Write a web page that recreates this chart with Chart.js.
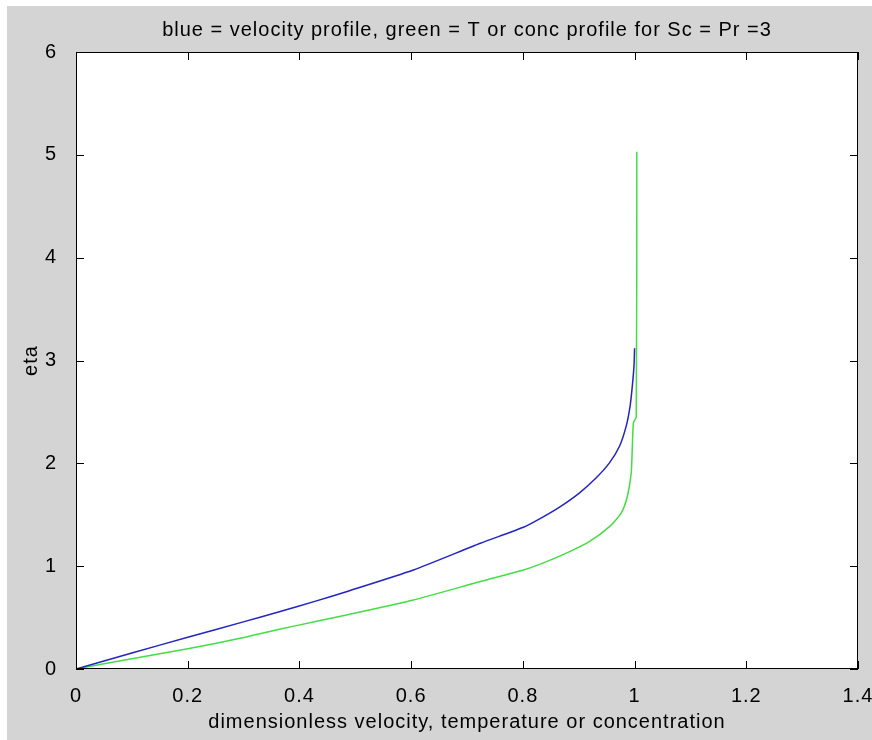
<!DOCTYPE html>
<html>
<head>
<meta charset="utf-8">
<script src="https://cdn.jsdelivr.net/npm/chart.js@4"></script>
<style>
  html, body { margin: 0; padding: 0; background: #fff; }
</style>
</head>
<body>
<canvas id="profiles" width="872" height="740"></canvas>
<script>
// blue curve: velocity profile
const velocity = [0, 0.1, 0.2, 0.298, 0.364, 0.429, 0.484, 0.604, 0.724, 0.801, 0.830, 0.865, 0.901, 0.931, 0.955, 0.973, 0.985, 0.992, 0.996, 0.999, 1.0];
const velocityEta = [0, 0.155, 0.309, 0.456, 0.557, 0.660, 0.752, 0.963, 1.223, 1.378, 1.460, 1.572, 1.711, 1.857, 2.004, 2.166, 2.362, 2.557, 2.753, 2.95, 3.12];
// green curve: T / conc profile (Sc = Pr = 3)
const temperature = [0, 0.1, 0.2, 0.298, 0.364, 0.429, 0.484, 0.604, 0.724, 0.801, 0.830, 0.877, 0.919, 0.955, 0.976, 0.987, 0.994, 0.996, 0.998, 1.003, 1.004];
const temperatureEta = [0, 0.1, 0.196, 0.303, 0.386, 0.462, 0.525, 0.671, 0.85, 0.962, 1.017, 1.124, 1.238, 1.384, 1.515, 1.677, 1.906, 2.166, 2.395, 2.45, 5.03];

const xTicks = [0, 0.2, 0.4, 0.6, 0.8, 1, 1.2, 1.4];
const yTicks = [0, 1, 2, 3, 4, 5, 6];

const titleText = 'blue = velocity profile, green = T or conc profile for Sc = Pr =3';
const xLabel = 'dimensionless velocity, temperature or concentration';
const yLabel = 'eta';

function toPoints(xs, ys) {
    return xs.map((v, i) => ({x: v, y: ys[i]}));
}

const fontFamily = '"Liberation Sans", Arial, Helvetica, sans-serif';
const textFont = { family: fontFamily, size: 20, weight: 'normal', lineHeight: 1.1 };

// gray figure, white axes box, inward ticks on all four sides
const matlabFrame = {
    id: 'matlabFrame',
    beforeUpdate(chart) {
        chart.ctx.letterSpacing = '1px';
    },
    beforeDraw(chart) {
        const {ctx, chartArea: a} = chart;
        ctx.letterSpacing = '1px';
        ctx.save();
        ctx.fillStyle = '#fff';
        ctx.fillRect(0, 0, chart.width, chart.height);
        ctx.fillStyle = '#d4d4d4';
        ctx.fillRect(7, 6, chart.width - 7, chart.height - 6);
        ctx.fillStyle = '#fff';
        ctx.fillRect(a.left, a.top, a.right - a.left, a.bottom - a.top);
        ctx.restore();
    },
    afterDraw(chart) {
        const {ctx, chartArea: a} = chart;
        const x = chart.scales.x, y = chart.scales.y;
        const len = 8;
        ctx.save();
        ctx.strokeStyle = '#000';
        ctx.lineWidth = 1;
        ctx.beginPath();
        x.ticks.forEach(t => {
            const px = Math.round(x.getPixelForValue(t.value)) + 0.5;
            ctx.moveTo(px, a.bottom); ctx.lineTo(px, a.bottom - len);
            ctx.moveTo(px, a.top); ctx.lineTo(px, a.top + len);
        });
        y.ticks.forEach(t => {
            const py = Math.round(y.getPixelForValue(t.value)) + 0.5;
            ctx.moveTo(a.left, py); ctx.lineTo(a.left + len, py);
            ctx.moveTo(a.right, py); ctx.lineTo(a.right - len, py);
        });
        ctx.stroke();
        ctx.strokeRect(a.left + 0.5, a.top + 0.5, a.right - a.left - 1, a.bottom - a.top - 1);
        ctx.restore();
    }
};

const ctx = document.getElementById('profiles');
new Chart(ctx, {
    type: 'scatter',
    data: {
        datasets: [{
            label: 'velocity',
            data: toPoints(velocity, velocityEta),
            showLine: true,
            borderColor: '#2424c0',
            borderWidth: 1.5,
            pointRadius: 0,
            tension: 0.2
        }, {
            label: 'T or conc',
            data: toPoints(temperature, temperatureEta),
            showLine: true,
            borderColor: '#44dd44',
            borderWidth: 1.5,
            pointRadius: 0,
            tension: 0.2
        }]
    },
    options: {
        responsive: false,
        animation: false,
        layout: { padding: { left: 0, top: 0, right: 14, bottom: 0 } },
        plugins: {
            legend: { display: false },
            tooltip: { enabled: false },
            title: {
                display: true,
                text: titleText,
                fullSize: false,
                color: '#000',
                font: textFont,
                padding: { top: 19, bottom: 11 }
            }
        },
        scales: {
            x: {
                type: 'linear',
                min: 0,
                max: 1.4,
                afterBuildTicks: s => { s.ticks = xTicks.map(v => ({value: v})); },
                afterFit: s => { s.height = 71; s.paddingLeft = 0; s.paddingRight = 0; },
                grid: { display: false },
                border: { display: false },
                ticks: {
                    color: '#000',
                    padding: 8,
                    font: textFont,
                    callback: v => String(v)
                },
                title: {
                    display: true,
                    text: xLabel,
                    color: '#000',
                    font: textFont,
                    padding: { top: 0, bottom: 7 }
                }
            },
            y: {
                type: 'linear',
                min: 0,
                max: 6,
                afterBuildTicks: s => { s.ticks = yTicks.map(v => ({value: v})); },
                afterFit: s => { s.width = 76; s.paddingTop = 0; s.paddingBottom = 0; },
                grid: { display: false },
                border: { display: false },
                ticks: {
                    color: '#000',
                    padding: 11,
                    font: textFont,
                    callback: v => String(v)
                },
                title: {
                    display: true,
                    text: yLabel,
                    color: '#000',
                    font: textFont,
                    padding: { top: 20, bottom: 0 }
                }
            }
        }
    },
    plugins: [matlabFrame]
});
</script>
</body>
</html>
